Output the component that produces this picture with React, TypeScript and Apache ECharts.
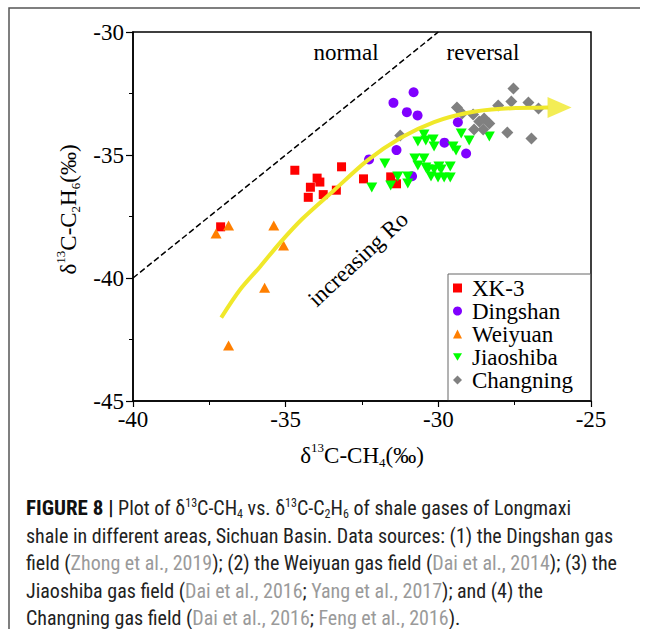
import React, { useEffect, useRef } from "react";
import * as echarts from "echarts";

const seriesNames = ["XK-3", "Dingshan", "Weiyuan", "Jiaoshiba", "Changning"];
const seriesColors = ["#ff0000", "#8000ff", "#ff7f00", "#00ff00", "#808080"];

const xk3 = [
  [-34.7, -35.62], [-33.17, -35.48], [-33.97, -35.94], [-33.88, -36.1], [-34.19, -36.31],
  [-33.77, -36.61], [-34.26, -36.72], [-33.34, -36.43], [-37.13, -37.92], [-32.45, -35.97],
  [-31.56, -35.89], [-31.37, -36.17],
];
const dingshan = [
  [-30.81, -32.45], [-31.47, -32.88], [-31.03, -33.26], [-30.68, -33.39], [-29.36, -33.67],
  [-29.8, -34.5], [-29.09, -34.94], [-31.37, -34.8], [-32.27, -35.18], [-30.86, -35.86],
];
const weiyuan = [
  [-36.87, -37.87], [-37.28, -38.19], [-35.39, -37.87], [-35.07, -38.68], [-35.69, -40.4],
  [-36.87, -42.74],
];
const jiaoshiba = [
  [-32.18, -36.32], [-31.75, -35.35], [-31.56, -36.24], [-31.33, -35.87], [-31.0, -35.87],
  [-31.0, -36.16], [-30.77, -35.14], [-30.47, -35.14], [-30.67, -35.43], [-30.47, -34.17],
  [-30.67, -34.45], [-30.41, -34.41], [-30.17, -34.37], [-30.14, -34.65], [-30.34, -35.59],
  [-30.14, -35.59], [-29.91, -35.59], [-29.61, -35.47], [-30.24, -35.87], [-30.01, -35.91],
  [-29.81, -35.91], [-29.61, -35.91], [-29.52, -34.65], [-29.42, -34.82], [-29.25, -34.13],
  [-28.99, -34.41], [-28.33, -34.25], [-30.41, -35.51], [-29.98, -35.47],
];
const changning = [
  [-31.25, -34.21], [-29.39, -33.07], [-29.22, -33.31], [-28.86, -33.35], [-28.5, -33.52],
  [-28.33, -33.72], [-28.83, -33.96], [-28.53, -33.96], [-28.04, -32.99], [-27.61, -32.83],
  [-27.54, -32.3], [-27.05, -32.87], [-26.72, -33.11], [-27.74, -34.09], [-26.95, -34.33],
  [-28.66, -33.64],
];
const normalLine = [[-40, -40], [-30, -30]];
const roCurve = [
  [-37.11, -41.61], [-36.49, -40.47], [-35.83, -39.53], [-35.18, -38.56], [-34.46, -37.6],
  [-33.43, -36.45], [-32.32, -35.22], [-31.23, -34.3], [-30.14, -33.66], [-29.03, -33.28],
  [-27.94, -33.12], [-26.4, -33.07],
];
const arrowHead = [[-26.03, -33.07]];

const xTicks = { min: -40, max: -25, interval: 5 };
const yTicks = { min: -45, max: -30, interval: 5 };

const SERIF = "'Liberation Serif', 'Times New Roman', serif";
const CAP = "'Liberation Sans Narrow', 'Arial Narrow', 'Roboto Condensed', 'DejaVu Sans Condensed', sans-serif";

const nameRich = {
  n: { fontFamily: SERIF, fontSize: 23, lineHeight: 28, color: "#000" },
  sup: { fontFamily: SERIF, fontSize: 13, lineHeight: 14, verticalAlign: "top", color: "#000" },
  sub: { fontFamily: SERIF, fontSize: 13, lineHeight: 14, verticalAlign: "bottom", color: "#000" },
};

const capBase = { fontFamily: CAP, fontSize: 20, lineHeight: 23, fill: "#222" };
const capRich = {
  b: { ...capBase, fontSize: 21, fontWeight: "bold", fill: "#111" },
  t: { ...capBase },
  g: { ...capBase, fill: "#9a9a9a" },
  sup: { fontFamily: CAP, fontSize: 12, lineHeight: 12, verticalAlign: "top", fill: "#222" },
  sub: { fontFamily: CAP, fontSize: 12, lineHeight: 12, verticalAlign: "bottom", fill: "#222" },
};
const captionLines = [
  "{b|FIGURE 8 |}{t| Plot of δ}{sup|13}{t|C-CH}{sub|4}{t| vs. δ}{sup|13}{t|C-C}{sub|2}{t|H}{sub|6}{t| of shale gases of Longmaxi}",
  "{t|shale in different areas, Sichuan Basin. Data sources: (1) the Dingshan gas}",
  "{t|field (}{g|Zhong et al., 2019}{t|); (2) the Weiyuan gas field (}{g|Dai et al., 2014}{t|); (3) the}",
  "{t|Jiaoshiba gas field (}{g|Dai et al., 2016}{t|; }{g|Yang et al., 2017}{t|); and (4) the}",
  "{t|Changning gas field (}{g|Dai et al., 2016}{t|; }{g|Feng et al., 2016}{t|).}",
];

function buildOption() {
  const scatterData = [xk3, dingshan, weiyuan, jiaoshiba, changning];
  const symbols = ["rect", "circle", "triangle", "path://M0,0L12,0L6,10Z", "diamond"];
  const sizes: any[] = [9, 10, [11, 10], [11, 10], 12];
  const scatters = scatterData.map((d, i) => ({
    type: "scatter",
    name: seriesNames[i],
    data: d,
    symbol: symbols[i],
    symbolSize: sizes[i],
    itemStyle: { color: seriesColors[i], opacity: 1 },
    z: 3,
  }));
  return {
    animation: false,
    backgroundColor: "#fff",
    grid: {
      left: 133, right: 61, top: 32, bottom: 228, show: true,
      borderColor: "#000", borderWidth: 1.5, backgroundColor: "transparent",
    },
    legend: {
      orient: "vertical", left: 453, top: 276.5, padding: 0, itemWidth: 9, itemHeight: 9, itemGap: 0,
      data: seriesNames,
      textStyle: { fontFamily: SERIF, fontSize: 23, color: "#000", padding: [0, 0, 0, 5] },
    },
    xAxis: {
      type: "value", ...xTicks,
      name: "{n|δ}{sup|13}{n|C-CH}{sub|4}{n|(‰)}",
      nameLocation: "middle", nameGap: 40,
      nameTextStyle: { rich: nameRich },
      axisLine: { show: true, onZero: false, lineStyle: { color: "#000", width: 1.5 } },
      axisTick: { show: true, length: 6, lineStyle: { color: "#000", width: 1.2 } },
      minorTick: { show: true, splitNumber: 2, length: 4, lineStyle: { color: "#000", width: 1 } },
      axisLabel: { fontFamily: SERIF, fontSize: 23, color: "#000", margin: 7 },
      splitLine: { show: false },
    },
    yAxis: {
      type: "value", ...yTicks,
      name: "{n|δ}{sup|13}{n|C-C}{sub|2}{n|H}{sub|6}{n|(‰)}",
      nameLocation: "middle", nameGap: 40, nameRotate: 90,
      nameTextStyle: { rich: nameRich, padding: [0, 0, 0, 14] },
      axisLine: { show: true, onZero: false, lineStyle: { color: "#000", width: 1.5 } },
      axisTick: { show: true, length: 7, lineStyle: { color: "#000", width: 1.2 } },
      minorTick: { show: true, splitNumber: 2, length: 4, lineStyle: { color: "#000", width: 1 } },
      axisLabel: { fontFamily: SERIF, fontSize: 23, color: "#000", margin: 9 },
      splitLine: { show: false },
    },
    series: [
      {
        type: "line", name: "normal-line", data: normalLine, symbol: "none", silent: true,
        lineStyle: { color: "#000", width: 1.5, type: [6, 3] }, z: 2,
      },
      ...scatters,
      {
        type: "line", name: "ro-curve", data: roCurve, symbol: "none", smooth: 0.3,
        silent: true, lineStyle: { color: "#f0e82a", width: 4 }, z: 5,
      },
      {
        type: "scatter", name: "ro-arrow", data: arrowHead, symbol: "triangle", symbolRotate: -90,
        symbolSize: [21, 24], itemStyle: { color: "#f0e82a" }, silent: true, z: 5,
      },
    ],
    graphic: [
      {
        type: "polyline", silent: true,
        shape: { points: [[9, 629], [9, 8], [640, 8]] },
        style: { stroke: "#555", lineWidth: 1.5, fill: "none" },
      },
      {
        type: "rect", silent: true, z: 0,
        shape: { x: 448, y: 274, width: 142.5, height: 127 },
        style: { stroke: "#666", lineWidth: 1, fill: "none" },
      },
      {
        type: "text", x: 346, y: 52, silent: true,
        style: { text: "normal", fontFamily: SERIF, fontSize: 23, fill: "#000", align: "center", verticalAlign: "middle" },
      },
      {
        type: "text", x: 483, y: 52, silent: true,
        style: { text: "reversal", fontFamily: SERIF, fontSize: 23, fill: "#000", align: "center", verticalAlign: "middle" },
      },
      {
        type: "text", x: 358, y: 259, rotation: (43 * Math.PI) / 180, silent: true,
        style: { text: "increasing Ro", fontFamily: SERIF, fontSize: 23, fill: "#000", align: "center", verticalAlign: "middle" },
      },
      ...captionLines.map((line, i) => ({
        type: "text", x: 26, y: 508 + i * 27.5, silent: true,
        style: { text: line, rich: capRich, verticalAlign: "middle", align: "left" },
      })),
    ],
  };
}

export default function App() {
  const ref = useRef<HTMLDivElement>(null);
  useEffect(() => {
    const chart = echarts.init(ref.current!, null, { renderer: "svg" });
    chart.setOption(buildOption() as any);
    return () => chart.dispose();
  }, []);
  return (
    <div
      ref={ref}
      style={{ position: "fixed", left: 0, top: 0, width: 652, height: 629, background: "#fff" }}
    />
  );
}
